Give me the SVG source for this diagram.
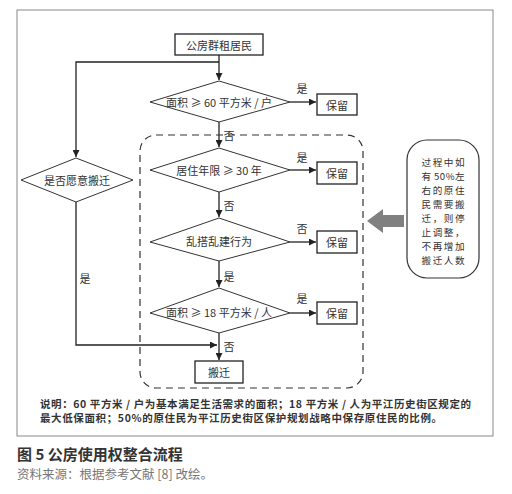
<svg xmlns="http://www.w3.org/2000/svg" width="512" height="494" viewBox="0 0 512 494">
<defs>
<marker id="ah" viewBox="0 0 10 10" refX="10" refY="5" markerWidth="7" markerHeight="7" markerUnits="userSpaceOnUse" orient="auto"><path d="M0,0 L10,5 L0,10 z" fill="#222"/></marker>
<style>
text{font-family:"Noto Sans CJK SC","Liberation Sans",sans-serif;fill:#333;}
.t{font-size:11px;text-anchor:middle;dominant-baseline:central;}
.nt{font-size:9.6px;text-anchor:middle;dominant-baseline:central;}
.lb{font-size:11px;text-anchor:middle;dominant-baseline:central;}
.box{fill:#fff;stroke:#222;stroke-width:1.3;}
.dia{fill:#fff;stroke:#333;stroke-width:1;}
.arr{fill:none;stroke:#222;stroke-width:1.3;marker-end:url(#ah);}
.note{font-size:10.5px;font-weight:bold;fill:#333;}
</style>
</defs>
<rect width="512" height="494" fill="#fff"/>
<rect x="17" y="10" width="476" height="426" fill="#fff" stroke="#888" stroke-width="1"/>
<rect id="dashed-region" x="140" y="135" width="223" height="253" rx="16" fill="none" stroke="#333" stroke-width="1.2" stroke-dasharray="7,5"/>

<g id="connectors">
<path class="arr" d="M219,55 V80"/>
<path class="arr" d="M219,62 H76 V157"/>
<path class="arr" d="M290,102 H316"/>
<path class="arr" d="M219,122 V147"/>
<path class="arr" d="M290,170 H316"/>
<path class="arr" d="M219,192 V217"/>
<path class="arr" d="M290,242 H316"/>
<path class="arr" d="M219,261 V287"/>
<path class="arr" d="M290,313 H316"/>
<path class="arr" d="M219,333 V360"/>
<path class="arr" d="M76,202 V345 H217"/>
<text class="lb" x="302" y="88">是</text>
<text class="lb" x="229" y="135">否</text>
<text class="lb" x="302" y="157">是</text>
<text class="lb" x="229" y="205">否</text>
<text class="lb" x="302" y="228">否</text>
<text class="lb" x="229" y="276">是</text>
<text class="lb" x="302" y="298">是</text>
<text class="lb" x="229" y="346">否</text>
<text class="lb" x="85" y="278">是</text>
</g>

<g id="start"><rect class="box" x="175" y="34" width="88" height="21"/><text class="t" x="219" y="44.5">公房群租居民</text></g>

<g id="d1"><polygon class="dia" points="219,81 290,102 219,122 150,102"/><text class="t" x="219" y="102">面积 ≥ 60 平方米 / 户</text></g>
<g id="k1"><rect class="box" x="317" y="94" width="40" height="21"/><text class="t" x="337" y="104.5">保留</text></g>

<g id="d2"><polygon class="dia" points="219,148 290,170 219,192 150,170"/><text class="t" x="219" y="170">居住年限 ≥ 30 年</text></g>
<g id="k2"><rect class="box" x="317" y="162" width="40" height="22"/><text class="t" x="337" y="173">保留</text></g>

<g id="d3"><polygon class="dia" points="219,218 290,242 219,261 150,242"/><text class="t" x="219" y="241">乱搭乱建行为</text></g>
<g id="k3"><rect class="box" x="317" y="231" width="40" height="22"/><text class="t" x="337" y="242">保留</text></g>

<g id="d4"><polygon class="dia" points="219,288 290,313 219,333 150,313"/><text class="t" x="219" y="312">面积 ≥ 18 平方米 / 人</text></g>
<g id="k4"><rect class="box" x="317" y="302" width="40" height="22"/><text class="t" x="337" y="313">保留</text></g>

<g id="dl"><polygon class="dia" points="76,158 133,180 76,202 21,180"/><text class="t" x="77" y="180">是否愿意搬迁</text></g>

<g id="move"><rect class="box" x="195" y="361" width="48" height="22"/><text class="t" x="219" y="372">搬迁</text></g>

<g id="arrow-gray"><polygon points="367,221 383,209 383,215 404,215 404,227 383,227 383,233" fill="#808080"/></g>

<g id="note-box"><rect x="407" y="140" width="72" height="138" rx="20" fill="#fff" stroke="#333" stroke-width="1.2"/>
<text class="nt" x="443" y="162" textLength="43">过程中如</text>
<text class="nt" x="443" y="176" textLength="43">有 50%左</text>
<text class="nt" x="443" y="190" textLength="43">右的原住</text>
<text class="nt" x="443" y="204" textLength="43">民需要搬</text>
<text class="nt" x="443" y="218" textLength="43">迁，则停</text>
<text class="nt" x="443" y="232" textLength="43">止调整，</text>
<text class="nt" x="443" y="246" textLength="43">不再增加</text>
<text class="nt" x="443" y="260" textLength="43">搬迁人数</text>
</g>

<text class="note" x="40" y="408" textLength="431">说明：60 平方米 / 户为基本满足生活需求的面积；18 平方米 / 人为平江历史街区规定的</text>
<text class="note" x="40" y="422" textLength="402">最大低保面积；50%的原住民为平江历史街区保护规划战略中保存原住民的比例。</text>

<text x="17" y="460" font-size="15" font-weight="bold" style="fill:#333">图 5  公房使用权整合流程</text>
<text x="17" y="479" font-size="12.5" style="fill:#777">资料来源：根据参考文献 [8] 改绘。</text>
</svg>
